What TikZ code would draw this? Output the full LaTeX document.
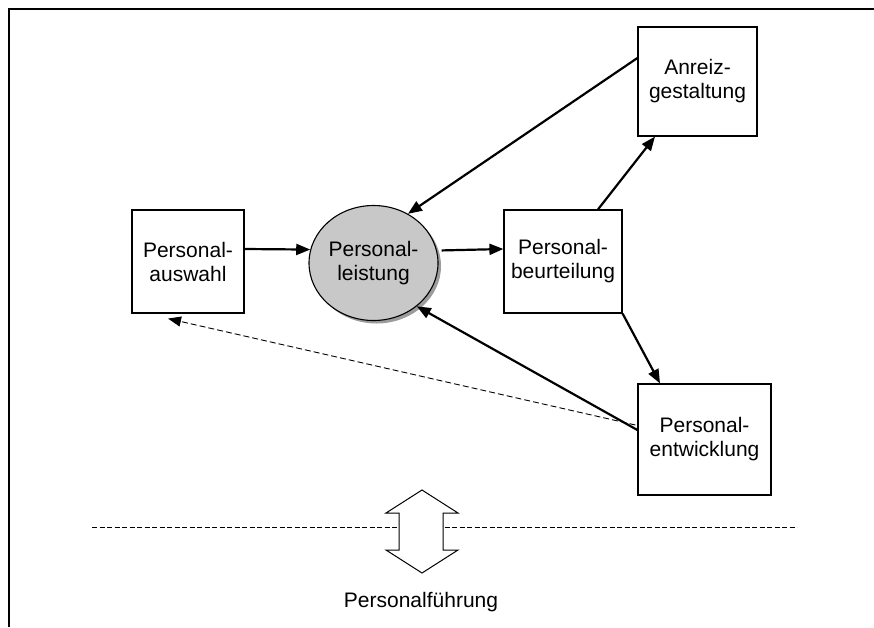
\documentclass[tikz,border=0pt]{standalone}
\usepackage{fontspec}
\setmainfont{Liberation Sans}
\usetikzlibrary{arrows.meta,shapes.geometric}
\definecolor{discfill}{HTML}{C8C8C8}
\definecolor{discshade}{HTML}{9C9C9C}
\tikzset{
  box/.style={draw, line width=1.2pt, fill=white, align=center,
              font=\fontsize{21}{24}\selectfont, inner sep=0pt},
  flow/.style={line width=2.2pt, -{Triangle[length=14pt,width=11pt]}},
  backflow/.style={line width=0.9pt, dash pattern=on 6pt off 3pt,
                   -{Triangle[length=13pt,width=10pt]}},
  disc/.style={ellipse, draw, line width=1.1pt, fill=discfill,
               minimum width=129pt, minimum height=115pt, inner sep=0pt,
               align=center, font=\fontsize{21}{24}\selectfont}
}
\begin{document}
\begin{tikzpicture}[x=1pt,y=-1pt]
\useasboundingbox (0,0) rectangle (874,627);

% page frame (left and top edges)
\draw[line width=1.4pt] (9,627) -- (9,9) -- (874,9);

% boxes
\node[box, minimum width=112pt, minimum height=103pt] (ausw) at (188,261.5) {Personal-\\auswahl};
\node[box, minimum width=118pt, minimum height=103pt] (beur) at (563,261.5) {Personal-\\beurteilung};
\node[box, minimum width=119pt, minimum height=109pt] (anr) at (697.5,81.5) {Anreiz-\\gestaltung};
\node[box, minimum width=133pt, minimum height=111pt] (entw) at (704.5,439.5) {Personal-\\entwicklung};

% central disc with its shadow
\fill[discshade] (376.5,266) ellipse [x radius=64.5pt, y radius=57.5pt];
\node[disc] (circ) at (373.5,263) {Personal-\\leistung};

% solid connectors
\draw[flow] ([yshift=12.5pt]ausw.east) -- (circ.168);
\draw[flow, shorten <=3pt] ([yshift=12.5pt]circ.east) -- ([yshift=12.5pt]beur.west);
\draw[flow] ([xshift=35pt]beur.north) -- ([xshift=-42.5pt]anr.south);
\draw[flow] (beur.south east) -- ([xshift=-44.5pt]entw.north);
\draw[flow] ([yshift=23.5pt]anr.west) -- (circ.55);
\draw[flow] ([yshift=9.5pt]entw.west) -- (circ.-45);

% dashed feedback
\coordinate (fbend) at ([xshift=-20pt,yshift=-5pt]ausw.south);
\draw[backflow] ([yshift=14.5pt,xshift=-2pt]entw.west) -- (fbend);

% dashed boundary line and the double arrow crossing it
\coordinate (lineL) at (92,527);
\coordinate (lineR) at (797,527);
\draw[line width=0.9pt, dash pattern=on 5pt off 2.5pt] (lineL) -- (lineR);
\draw[line width=1pt, fill=white, line join=miter]
  (422,490) -- (386,513) -- (399,513) -- (399,550) -- (386,550) -- (422,573)
  -- (458,550) -- (443,550) -- (443,513) -- (458,513) -- cycle;

\node[font=\fontsize{21}{24}\selectfont] (lead) at (421,602) {Personalführung};
\end{tikzpicture}
\end{document}
